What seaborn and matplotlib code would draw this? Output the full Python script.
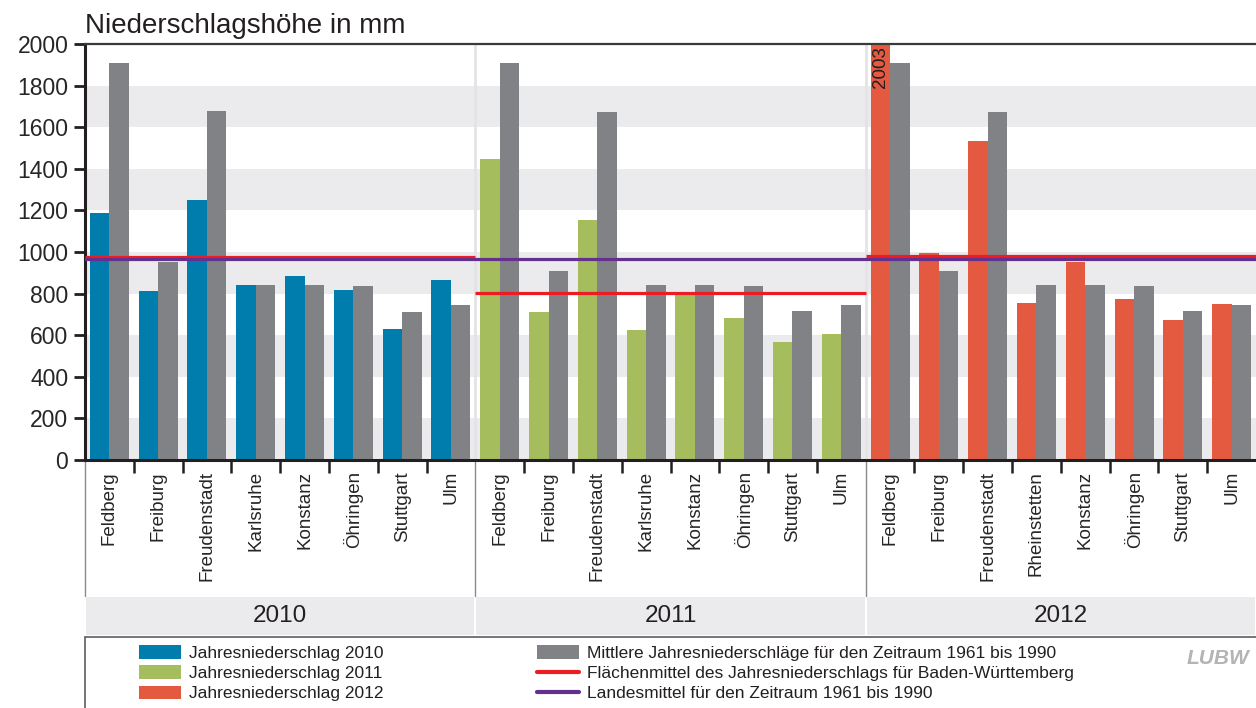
import pandas as pd
import seaborn as sns
import matplotlib.pyplot as plt
from matplotlib.patches import Rectangle, Patch
from matplotlib.lines import Line2D

# --- data (mm) ---
years = ['2010', '2011', '2012']
stations_2010 = ['Feldberg', 'Freiburg', 'Freudenstadt', 'Karlsruhe', 'Konstanz', 'Öhringen', 'Stuttgart', 'Ulm']
stations_2011 = ['Feldberg', 'Freiburg', 'Freudenstadt', 'Karlsruhe', 'Konstanz', 'Öhringen', 'Stuttgart', 'Ulm']
stations_2012 = ['Feldberg', 'Freiburg', 'Freudenstadt', 'Rheinstetten', 'Konstanz', 'Öhringen', 'Stuttgart', 'Ulm']

jahr_2010 = [1186, 814, 1251, 843, 886, 818, 631, 867]
jahr_2011 = [1449, 713, 1155, 626, 803, 684, 569, 607]
jahr_2012 = [2003, 997, 1535, 756, 953, 775, 674, 751]

mittel_2010 = [1910, 953, 1679, 843, 843, 838, 713, 747]
mittel_2011 = [1910, 910, 1674, 843, 843, 838, 717, 747]
mittel_2012 = [1910, 910, 1674, 843, 843, 838, 717, 747]

flaechenmittel = [977, 803, 981]   # per year
landesmittel = 966                  # 1961-1990

year_colors = ['#007DAD', '#A5BD5D', '#E35A41']
grey_bar = '#818286'
red_line = '#EC1C24'
purple_line = '#63308E'
band_grey = '#EBEBED'

legend_labels = ['Jahresniederschlag 2010', 'Jahresniederschlag 2011', 'Jahresniederschlag 2012',
                 'Mittlere Jahresniederschläge für den Zeitraum 1961 bis 1990',
                 'Flächenmittel des Jahresniederschlags für Baden-Württemberg',
                 'Landesmittel für den Zeitraum 1961 bis 1990']

# long table
rows = []
for yr, st, ja, mi in zip(years, [stations_2010, stations_2011, stations_2012],
                          [jahr_2010, jahr_2011, jahr_2012], [mittel_2010, mittel_2011, mittel_2012]):
    for s, a, m in zip(st, ja, mi):
        slot = f'{s} {yr}'
        rows.append({'slot': slot, 'station': s, 'year': yr, 'typ': 'Jahr', 'wert': a})
        rows.append({'slot': slot, 'station': s, 'year': yr, 'typ': 'Mittel', 'wert': m})
df = pd.DataFrame(rows)
slots = list(dict.fromkeys(df['slot']))
labels = stations_2010 + stations_2011 + stations_2012

sns.set_theme(style='ticks')
plt.rcParams['font.family'] = ['Liberation Sans', 'DejaVu Sans']
plt.rcParams['text.color'] = '#231F20'

W, H = 1256, 708
fig = plt.figure(figsize=(W / 100, H / 100), dpi=100)
ax_l, ax_r, ax_t, ax_b = 85, 1256, 44, 460
ax = fig.add_axes([ax_l / W, 1 - ax_b / H, (ax_r - ax_l) / W, (ax_b - ax_t) / H])

# alternating background bands
for lo in range(0, 2000, 400):
    ax.axhspan(lo, lo + 200, color=band_grey, lw=0, zorder=0)
for x in [7.5, 15.5]:
    ax.axvline(x, color='#E4E4E6', lw=2, zorder=0.5)

sns.barplot(data=df, x='slot', y='wert', hue='typ', order=slots, hue_order=['Jahr', 'Mittel'],
            palette={'Jahr': year_colors[0], 'Mittel': grey_bar}, saturation=1, width=0.8,
            errorbar=None, legend=False, linewidth=0, ax=ax, zorder=2)

# colour the actual-year bars per year
for i, bar in enumerate(ax.containers[0]):
    bar.set_facecolor(year_colors[i // 8])

# reference lines
for k, val in enumerate(flaechenmittel):
    ax.hlines(val, -0.5 + 8 * k, 7.5 + 8 * k, color=red_line, lw=2.3, zorder=4)
ax.axhline(landesmittel, color=purple_line, lw=2.3, zorder=4)

# clipped Feldberg 2012 bar label
b = ax.containers[0][16]
ax.text(b.get_x() + b.get_width() / 2, 1990, '2003', rotation=90, ha='center', va='top',
        fontsize=13.5, color='#231F20', zorder=5)

ax.set_xlim(-0.5, 23.5)
ax.set_ylim(0, 2000)
ax.set_yticks(range(0, 2001, 200))
ax.tick_params(axis='y', labelsize=16.5, length=8, width=2, color='#231F20', pad=4)
ax.set_xticks(range(24))
ax.set_xticklabels(labels, rotation=90, va='top', ha='center', fontsize=13.5)
ax.tick_params(axis='x', length=0, pad=8)
minor = [i + 0.5 for i in range(23) if i not in (7, 15)]
ax.set_xticks(minor, minor=True)
ax.tick_params(axis='x', which='minor', length=9, width=1.8, color='#231F20')
ax.set_xlabel('')
ax.set_ylabel('')
ax.set_title('Niederschlagshöhe in mm', loc='left', fontsize=20, pad=8)

for side in ['left', 'bottom']:
    ax.spines[side].set_linewidth(2.2)
    ax.spines[side].set_color('#231F20')
ax.spines['top'].set_linewidth(1.6)
ax.spines['top'].set_color('#3A3A3A')
ax.spines['right'].set_visible(False)

# area under the axis: separators, year band, legend frame
tr = ax.get_xaxis_transform()
def fy(py):
    return (ax_b - py) / (ax_b - ax_t)

for x in [-0.5, 7.5, 15.5]:
    ax.add_line(Line2D([x, x], [0, fy(596)], transform=tr, color='#8A8A8A', lw=1, clip_on=False))
for k, yr in enumerate(years):
    ax.add_patch(Rectangle((-0.5 + 8 * k, fy(636)), 8, fy(596) - fy(636), transform=tr,
                           facecolor=band_grey, edgecolor='white', lw=1.5, clip_on=False))
    ax.text(3.5 + 8 * k, (fy(596) + fy(636)) / 2, yr, transform=tr, ha='center', va='center',
            fontsize=17.5, clip_on=False)
ax.add_line(Line2D([-0.5, 23.5], [fy(637), fy(637)], transform=tr, color='#6A6A6A', lw=1.3, clip_on=False))
ax.add_line(Line2D([-0.5, -0.5], [fy(637), fy(710)], transform=tr, color='#6A6A6A', lw=1.3, clip_on=False))

# legends
h1 = [Patch(facecolor=c, edgecolor='none') for c in year_colors]
h2 = [Patch(facecolor=grey_bar, edgecolor='none'),
      Line2D([], [], color=red_line, lw=3), Line2D([], [], color=purple_line, lw=3)]
common = dict(frameon=False, fontsize=12.5, handlelength=2.4, handleheight=0.85, handletextpad=0.5,
              labelspacing=0.25, borderaxespad=0, borderpad=0, loc='upper left')
fig.legend(h1, legend_labels[:3], bbox_to_anchor=(139 / W, 1 - 645 / H), **common)
fig.legend(h2, legend_labels[3:], bbox_to_anchor=(537 / W, 1 - 645 / H), **common)

fig.text(1218 / W, 1 - 658 / H, 'LUBW', ha='center', va='center', fontsize=15, color='#B4B4B6',
         fontweight='bold', fontstyle='italic')

fig.savefig('out.png', dpi=100)
